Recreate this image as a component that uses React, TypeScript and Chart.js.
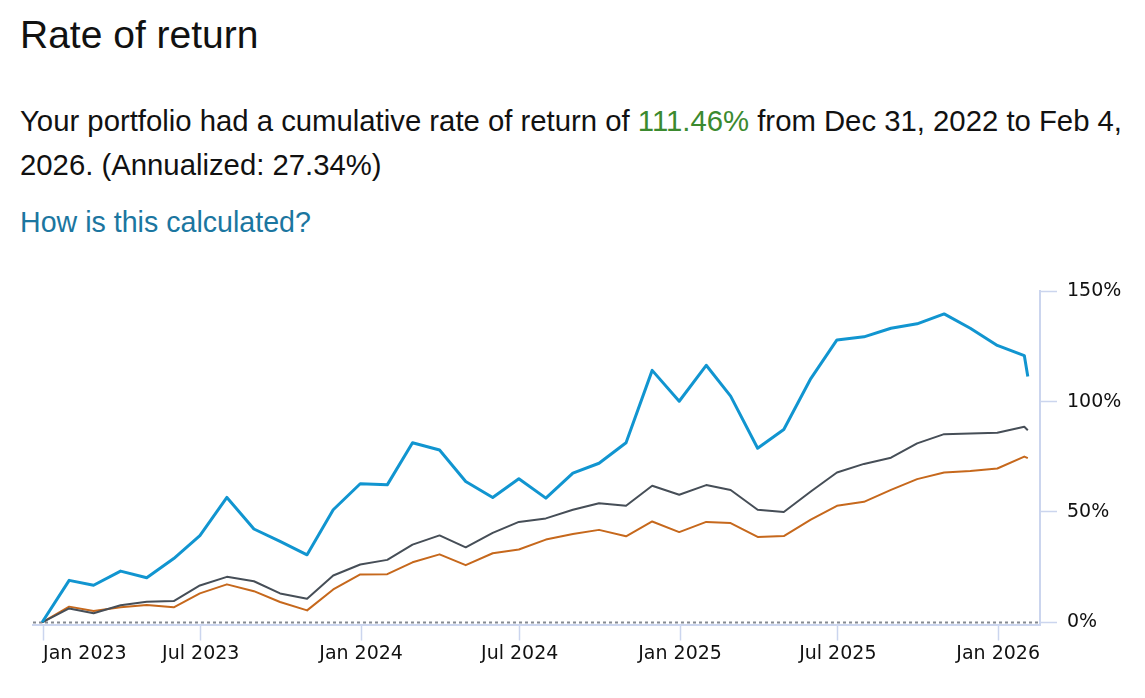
import React, { useEffect, useRef } from "react";
import { Chart, registerables } from "chart.js";

Chart.register(...registerables);

// Observation dates (month ends, plus the last valuation date)
const dates = [
  "2022-12-31", "2023-01-31", "2023-02-28", "2023-03-31", "2023-04-30", "2023-05-31",
  "2023-06-30", "2023-07-31", "2023-08-31", "2023-09-30", "2023-10-31", "2023-11-30",
  "2023-12-31", "2024-01-31", "2024-02-29", "2024-03-31", "2024-04-30", "2024-05-31",
  "2024-06-30", "2024-07-31", "2024-08-31", "2024-09-30", "2024-10-31", "2024-11-30",
  "2024-12-31", "2025-01-31", "2025-02-28", "2025-03-31", "2025-04-30", "2025-05-31",
  "2025-06-30", "2025-07-31", "2025-08-31", "2025-09-30", "2025-10-31", "2025-11-30",
  "2025-12-31", "2026-01-31", "2026-02-04",
];

// Cumulative return, %
const portfolio = [
  0, 19.0, 16.8, 23.2, 20.2, 28.9, 39.3, 56.6, 42.3, 36.7, 30.6, 51.0, 62.8,
  62.3, 81.4, 78.1, 63.8, 56.6, 65.1, 56.3, 67.6, 72.1, 81.4, 114.2, 100.2,
  116.5, 102.5, 78.9, 87.4, 110.5, 128.0, 129.4, 133.3, 135.3, 139.8, 133.3,
  125.5, 120.9, 111.46,
];
const benchmarkGray = [
  0, 6.3, 4.1, 7.7, 9.3, 9.6, 16.7, 20.6, 18.6, 13.1, 10.7, 21.2, 26.2,
  28.3, 35.2, 39.4, 34.0, 40.5, 45.5, 47.1, 51.0, 54.0, 52.8, 61.9, 57.8,
  62.2, 60.0, 51.0, 50.0, 59.3, 67.9, 71.8, 74.6, 81.1, 85.3, 85.6,
  85.9, 88.6, 87.1,
];
const benchmarkOrange = [
  0, 7.1, 5.1, 6.8, 7.8, 6.8, 13.1, 17.2, 14.1, 9.2, 5.4, 14.9, 21.7,
  21.8, 27.2, 30.8, 25.9, 31.3, 33.0, 37.5, 40.0, 41.9, 39.0, 45.7, 40.9,
  45.5, 45.0, 38.7, 39.1, 46.5, 52.8, 54.6, 60.0, 64.9, 67.9, 68.6,
  69.7, 75.1, 74.4,
];

const xTickDates = [
  "2023-01-01", "2023-07-01", "2024-01-01", "2024-07-01",
  "2025-01-01", "2025-07-01", "2026-01-01",
];
const xTickLabels = [
  "Jan 2023", "Jul 2023", "Jan 2024", "Jul 2024",
  "Jan 2025", "Jul 2025", "Jan 2026",
];
const yTickValues = [0, 50, 100, 150];

const ORIGIN = Date.parse("2022-12-31T00:00:00Z");
const toDay = (d: string) => (Date.parse(d + "T00:00:00Z") - ORIGIN) / 86400000;

const X_MIN = -10.5;
const X_MAX = 1145;
const AXIS = "#cbd5ee";

const zeroLine = {
  id: "zeroLine",
  beforeDatasetsDraw(chart: any) {
    const { ctx, chartArea, scales } = chart;
    const y = Math.round(scales.y.getPixelForValue(0)) + 0.5;
    ctx.save();
    ctx.strokeStyle = "#858a91";
    ctx.lineWidth = 2;
    ctx.setLineDash([3, 3]);
    ctx.beginPath();
    ctx.moveTo(chartArea.left, y);
    ctx.lineTo(chartArea.right, y);
    ctx.stroke();
    ctx.restore();
  },
};

function RateChart() {
  const ref = useRef<HTMLCanvasElement | null>(null);
  useEffect(() => {
    if (!ref.current) return;
    const xs = dates.map(toDay);
    const mk = (vals: number[]) => vals.map((v, i) => ({ x: xs[i], y: v }));
    const chart = new Chart(ref.current, {
      type: "line",
      data: {
        datasets: [
          {
            label: "Portfolio",
            data: mk(portfolio),
            borderColor: "#1195d0",
            borderWidth: 3,
            pointRadius: 0,
            tension: 0,
            borderJoinStyle: "round",
          },
          {
            label: "Benchmark 1",
            data: mk(benchmarkGray),
            borderColor: "#464e57",
            borderWidth: 2,
            pointRadius: 0,
            tension: 0,
            borderJoinStyle: "round",
          },
          {
            label: "Benchmark 2",
            data: mk(benchmarkOrange),
            borderColor: "#c6681c",
            borderWidth: 2,
            pointRadius: 0,
            tension: 0,
            borderJoinStyle: "round",
          },
        ],
      },
      options: {
        animation: false,
        responsive: false,
        maintainAspectRatio: false,
        devicePixelRatio: 1,
        layout: { padding: { top: 21, left: 33, right: 0, bottom: 0 } },
        plugins: { legend: { display: false }, tooltip: { enabled: false } },
        scales: {
          x: {
            type: "linear",
            min: X_MIN,
            max: X_MAX,
            afterBuildTicks: (scale: any) => {
              scale.ticks = [
                ...xTickDates.map((d) => ({ value: toDay(d) })),
                { value: X_MAX },
              ];
            },
            afterFit: (scale: any) => {
              scale.height = 65.5;
            },
            ticks: {
              autoSkip: false,
              maxRotation: 0,
              align: "inner",
              padding: 2,
              color: "#111",
              font: { family: "DejaVu Sans", size: 19 },
              callback: (_v: any, i: number) => (i < xTickLabels.length ? xTickLabels[i] : ""),
            },
            grid: {
              drawOnChartArea: false,
              drawTicks: true,
              tickLength: 16,
              tickWidth: 1.5,
              tickColor: (c: any) => (c.index < xTickLabels.length ? AXIS : "rgba(0,0,0,0)"),
            },
            border: { display: true, color: AXIS, width: 2 },
          },
          y: {
            type: "linear",
            position: "right",
            min: -1,
            max: 150,
            afterBuildTicks: (scale: any) => {
              scale.ticks = yTickValues.map((v) => ({ value: v }));
            },
            afterFit: (scale: any) => {
              scale.width = 105;
            },
            ticks: {
              padding: 10,
              color: "#111",
              font: { family: "DejaVu Sans", size: 19 },
              callback: (v: any) => v + "%",
            },
            grid: {
              drawOnChartArea: false,
              drawTicks: true,
              tickLength: 17,
              tickWidth: 1.5,
              tickColor: AXIS,
            },
            border: { display: true, color: AXIS, width: 2 },
          },
        },
      },
      plugins: [zeroLine],
    });
    return () => chart.destroy();
  }, []);
  return <canvas ref={ref} width={1145} height={420} style={{ display: "block", width: 1145, height: 420 }} />;
}

export default function App() {
  const text: React.CSSProperties = {
    position: "absolute",
    left: 20,
    margin: 0,
    fontFamily: "'Liberation Sans', Arial, Helvetica, sans-serif",
    color: "#111",
  };
  return (
    <div style={{ position: "absolute", left: 0, top: 0, width: 1145, height: 698, background: "#fff", overflow: "hidden" }}>
      <h1 style={{ ...text, top: 12, fontSize: 39, lineHeight: "45px", fontWeight: 400 }}>Rate of return</h1>
      <p style={{ ...text, top: 98.5, width: 1120, fontSize: 29.3, lineHeight: "44px" }}>
        Your portfolio had a cumulative rate of return of{" "}
        <span style={{ color: "#3b8a2f" }}>111.46%</span> from Dec 31, 2022 to Feb 4, 2026. (Annualized: 27.34%)
      </p>
      <a href="#" style={{ ...text, top: 199.8, fontSize: 28.6, lineHeight: "44px", color: "#1b76a0", textDecoration: "none" }}>
        How is this calculated?
      </a>
      <div style={{ position: "absolute", left: 0, top: 270 }}>
        <RateChart />
      </div>
    </div>
  );
}
